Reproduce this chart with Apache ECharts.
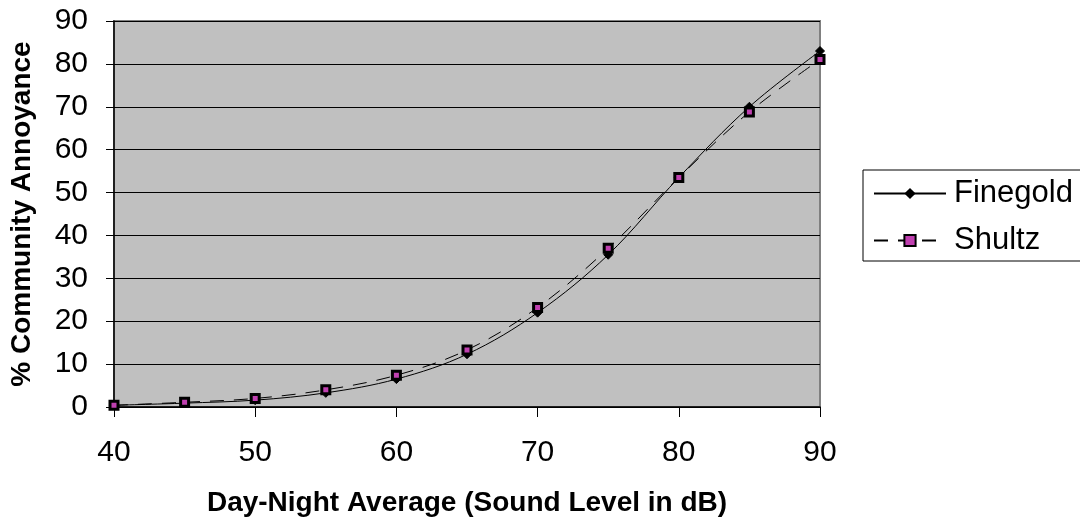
<!DOCTYPE html>
<html>
<head>
<meta charset="utf-8">
<script src="https://cdn.jsdelivr.net/npm/echarts@6/dist/echarts.min.js"></script>
<style>html,body{margin:0;padding:0;background:#fff}#c{width:1080px;height:522px}</style>
</head>
<body>
<div id="c"></div>
<script>
const soundLevels = [40, 45, 50, 55, 60, 65, 70, 75, 80, 85, 90];
const finegold = [0.4, 0.9, 1.6, 3.3, 6.5, 12.3, 22.0, 35.5, 53.5, 70.0, 83.0];
const shultz = [0.4, 1.1, 2.0, 4.0, 7.4, 13.3, 23.2, 37.0, 53.5, 68.8, 81.0];

const pairs = (ys) => soundLevels.map((x, i) => [x, ys[i]]);
const font = 'Arial, "Liberation Sans", sans-serif';

const chart = echarts.init(document.getElementById('c'));
chart.setOption({
  animation: false,
  backgroundColor: '#fff',
  grid: {
    left: 114, right: 260, top: 21, bottom: 113,
    show: true, backgroundColor: '#c0c0c0', borderColor: '#808080', borderWidth: 2
  },
  legend: {
    orient: 'vertical',
    left: 863, top: 170,
    padding: [8, 80, 5, 10],
    itemGap: 16,
    itemWidth: 72, itemHeight: 14,
    borderColor: '#000', borderWidth: 1,
    backgroundColor: '#fff',
    textStyle: { fontFamily: font, fontSize: 31, color: '#000', padding: [0, 0, 0, 3] },
    data: ['Finegold', 'Shultz']
  },
  xAxis: {
    type: 'value', min: 40, max: 90, interval: 10,
    name: 'Day-Night Average (Sound Level in dB)',
    nameLocation: 'middle', nameGap: 82,
    nameTextStyle: { fontFamily: font, fontSize: 28, fontWeight: 'bold', color: '#000' },
    axisLine: { lineStyle: { color: '#000', width: 1.5 } },
    axisTick: { show: true, length: 10, lineStyle: { color: '#000' } },
    axisLabel: { fontFamily: font, fontSize: 30, color: '#000', margin: 31 },
    splitLine: { show: false }
  },
  yAxis: {
    type: 'value', min: 0, max: 90, interval: 10,
    name: '% Community Annoyance',
    nameLocation: 'middle', nameGap: 78,
    nameTextStyle: { fontFamily: font, fontSize: 28, fontWeight: 'bold', color: '#000' },
    axisLine: { show: true, lineStyle: { color: '#000', width: 1.5 } },
    axisTick: { show: true, length: 8, lineStyle: { color: '#000' } },
    axisLabel: { fontFamily: font, fontSize: 30, color: '#000', margin: 26 },
    splitLine: { show: true, lineStyle: { color: '#000', width: 1 } }
  },
  series: [
    {
      name: 'Finegold', type: 'line', smooth: 0.35,
      data: pairs(finegold),
      symbol: 'diamond', symbolSize: 9,
      lineStyle: { color: '#000', width: 1 },
      itemStyle: { color: '#000', borderColor: '#000' },
      z: 3
    },
    {
      name: 'Shultz', type: 'line', smooth: 0.35,
      data: pairs(shultz),
      symbol: 'rect', symbolSize: 8,
      lineStyle: { color: '#000', width: 1, type: [14, 10] },
      itemStyle: { color: '#c040b0', borderColor: '#000', borderWidth: 3 },
      z: 4
    }
  ]
});
</script>
</body>
</html>
